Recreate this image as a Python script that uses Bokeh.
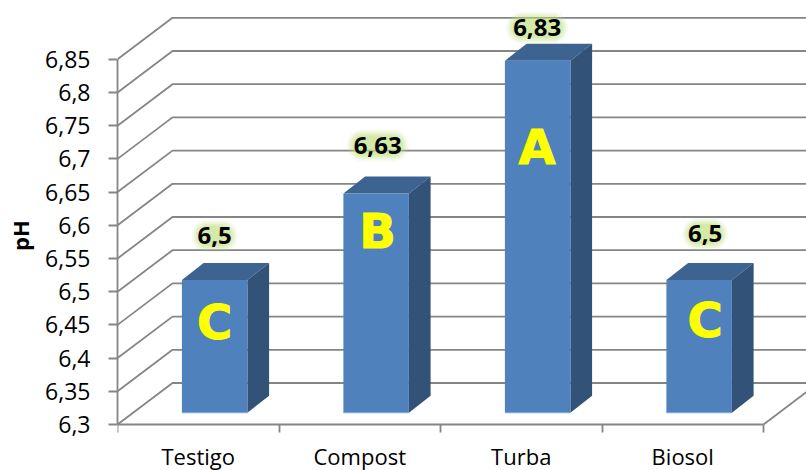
from bokeh.core.properties import value
from bokeh.embed import file_html
from bokeh.models import FixedTicker, Range1d
from bokeh.plotting import figure
from bokeh.resources import INLINE

# Chart data
categories = ["Testigo", "Compost", "Turba", "Biosol"]
ph_values = [6.5, 6.63, 6.83, 6.5]
value_labels = ["6,5", "6,63", "6,83", "6,5"]
group_letters = ["C", "B", "A", "C"]
y_tick_labels = ["6,3", "6,35", "6,4", "6,45", "6,5", "6,55", "6,6",
                 "6,65", "6,7", "6,75", "6,8", "6,85"]
y_title = "pH"

# Scale of the plotting frame, in pixels per data unit
PX_PER_CATEGORY = 161.5
PX_PER_PH = 664.0
FRAME_LEFT = 117
AXIS_Y = 424
WIDTH, HEIGHT = 806, 470

dx_data = lambda px: px / PX_PER_CATEGORY
dy_data = lambda px: px / PX_PER_PH

y_ticks = [float(s.replace(",", ".")) for s in y_tick_labels]
y_min, y_max = y_ticks[0], y_ticks[-1]
n_cat = len(categories)

# The frame runs to the bottom of the page; the category axis is pinned at the
# lowest pH value so its labels sit in the space beneath it.
p = figure(
    width=WIDTH, height=HEIGHT, output_backend="svg", toolbar_location=None,
    x_range=Range1d(0, dx_data(WIDTH - FRAME_LEFT)),
    y_range=Range1d(y_min - dy_data(HEIGHT - AXIS_Y), y_min + dy_data(AXIS_Y)),
    min_border_left=FRAME_LEFT, min_border_bottom=0,
    min_border_top=0, min_border_right=0,
    outline_line_color=None, background_fill_color="white",
    border_fill_color="white",
)
p.grid.visible = False

GRID = "#858585"
TICK_FONT = "Open Sans"

# Receding walls and floor of the 3D frame
wall_dx, wall_dy = dx_data(55), dy_data(41.5)
p.multi_line(
    xs=[[0, wall_dx, n_cat + wall_dx] for _ in y_ticks],
    ys=[[t, t + wall_dy, t + wall_dy] for t in y_ticks],
    line_color=GRID, line_width=1.8,
)
p.line([n_cat, n_cat + wall_dx], [y_min, y_min + wall_dy],
       line_color=GRID, line_width=1.8)

# Bars: front face, top face and side face. They stand part way back on the
# floor, so the whole bar is lifted by the same small amount.
bar_off_x, bar_off_y = dx_data(16.4), dy_data(11.8)
bar_w = dx_data(65.5)
depth_x, depth_y = dx_data(21.7), dy_data(17)
base = y_min + bar_off_y
lefts = [i + 0.5 + bar_off_x - bar_w / 2 for i in range(n_cat)]
rights = [l + bar_w for l in lefts]
tops = [v + bar_off_y for v in ph_values]

p.patches(
    xs=[[l, l + depth_x, r + depth_x, r] for l, r in zip(lefts, rights)],
    ys=[[t, t + depth_y, t + depth_y, t] for t in tops],
    fill_color="#3d6491", line_color=None,
)
p.patches(
    xs=[[r, r + depth_x, r + depth_x, r] for r in rights],
    ys=[[t, t + depth_y, base + depth_y, base] for t in tops],
    fill_color="#325277", line_color=None,
)
p.quad(left=lefts, right=rights, bottom=base, top=tops,
       fill_color="#4f81bd", line_color=None)
p.segment(x0=lefts, x1=rights, y0=base, y1=base, line_color="#7ea6d8", line_width=1.2)

# Soft green glow behind the value labels
label_dx = [0, 1.5, -0.5, 6]
label_dy = [44, 48, 33, 46]
halo_half = [7, 15, 15, 7]
cx = [(l + r) / 2 for l, r in zip(lefts, rights)]
for w, a in [(32, 0.12), (28, 0.18), (24, 0.25), (20, 0.35)]:
    p.multi_line(
        xs=[[c + dx_data(o - h), c + dx_data(o + h)]
            for c, o, h in zip(cx, label_dx, halo_half)],
        ys=[[t + dy_data(d), t + dy_data(d)] for t, d in zip(tops, label_dy)],
        line_color="#bfe07c", line_alpha=a, line_width=w, line_cap="round",
    )

p.text(x=cx, y=tops, text=value_labels, x_offset=label_dx,
       y_offset=[-d for d in label_dy],
       text_font=value(TICK_FONT), text_font_style="bold", text_font_size="24px",
       text_color="#000000", text_align="center", text_baseline="middle")

# Significance letters on the bar faces
letter_dx = [0, 1.5, -0.5, 6]
letter_dy = [42, 37, 86, 40]
p.text(x=cx, y=tops, text=group_letters, x_offset=letter_dx, y_offset=letter_dy,
       text_font=value("DejaVu Sans"), text_font_style="bold", text_font_size="48px",
       text_color="#ffff00", text_outline_color="#ffff00",
       text_align="center", text_baseline="middle")

# Value axis
ya = p.yaxis[0]
ya.ticker = FixedTicker(ticks=y_ticks)
ya.major_label_overrides = dict(zip(y_ticks, y_tick_labels))
ya.bounds = (y_min, y_max)
ya.axis_line_color = GRID
ya.axis_line_width = 1.8
ya.major_tick_line_color = GRID
ya.major_tick_line_width = 1.8
ya.major_tick_out = 9
ya.major_tick_in = 0
ya.minor_tick_line_color = None
ya.major_label_standoff = 18
ya.major_label_text_font = TICK_FONT
ya.major_label_text_font_size = "23px"
ya.major_label_text_color = "#000000"
ya.axis_label = y_title
ya.axis_label_text_font = TICK_FONT
ya.axis_label_text_font_style = "bold"
ya.axis_label_text_font_size = "22px"
ya.axis_label_text_color = "#000000"
ya.axis_label_standoff = 7

# Category axis: ticks sit between categories, labels at their centres
xa = p.xaxis[0]
centres = [i + 0.5 for i in range(n_cat)]
xa.fixed_location = y_min
xa.ticker = FixedTicker(ticks=centres, minor_ticks=list(range(n_cat + 1)))
xa.major_label_overrides = dict(zip(centres, categories))
xa.bounds = (0, n_cat)
xa.axis_line_color = GRID
xa.axis_line_width = 1.8
xa.major_tick_line_color = None
xa.minor_tick_line_color = GRID
xa.minor_tick_line_width = 1.8
xa.minor_tick_out = 8
xa.minor_tick_in = 0
xa.major_tick_out = 8
xa.major_tick_in = 0
xa.major_label_standoff = 8
xa.major_label_text_font = TICK_FONT
xa.major_label_text_font_size = "22px"
xa.major_label_text_color = "#000000"

open("out.html", "w").write(file_html(p, INLINE))
